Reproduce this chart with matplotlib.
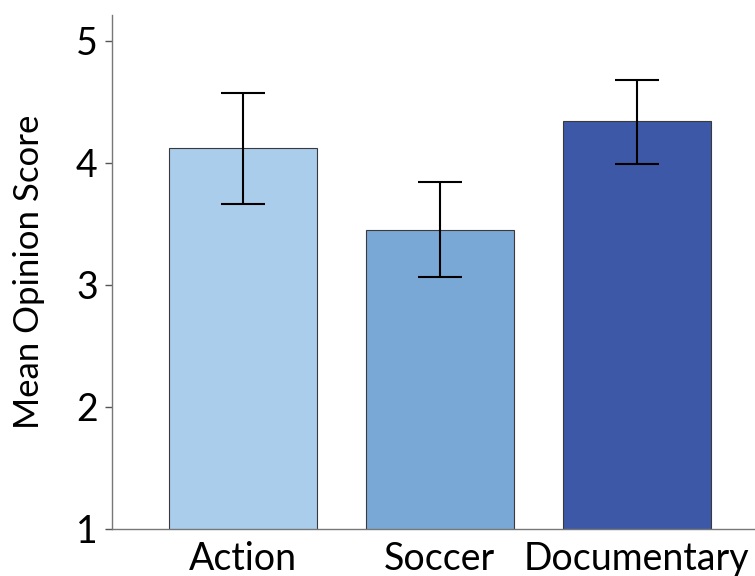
import matplotlib.pyplot as plt

# data
genres = ['Action', 'Soccer', 'Documentary']
mos = [4.12, 3.45, 4.34]
err_low = [0.46, 0.39, 0.35]
err_high = [0.45, 0.39, 0.34]
colors = ['#aacdeb', '#7aa8d6', '#3e58a8']

plt.rcParams['font.family'] = ['Lato', 'DejaVu Sans']

fig = plt.figure(figsize=(7.55, 5.76), dpi=100)
ax = fig.add_axes([0.148, 0.082, 0.852, 0.892])

x = range(len(genres))
ax.bar(x, mos, width=0.75, bottom=0, color=colors,
       edgecolor='#3a3a3a', linewidth=0.8, zorder=2)
ax.errorbar(x, mos, yerr=[err_low, err_high], fmt='none', ecolor='black',
            elinewidth=1.5, capsize=16, capthick=1.5, zorder=3)

ax.set_ylim(1, 5.21)
ax.set_xlim(-0.665, 2.6)
ax.set_yticks([1, 2, 3, 4, 5])
ax.set_xticks(list(x))
ax.set_xticklabels(genres, fontsize=27)
ax.tick_params(axis='y', labelsize=27, length=5, width=1, color='#555555', pad=5)
ax.tick_params(axis='x', length=0, pad=9)
ax.set_ylabel('Mean Opinion Score', fontsize=25, labelpad=22)

for side in ['top', 'right']:
    ax.spines[side].set_visible(False)
for side in ['left', 'bottom']:
    ax.spines[side].set_color('#777777')
    ax.spines[side].set_linewidth(1)

fig.savefig('out.png', dpi=100)
